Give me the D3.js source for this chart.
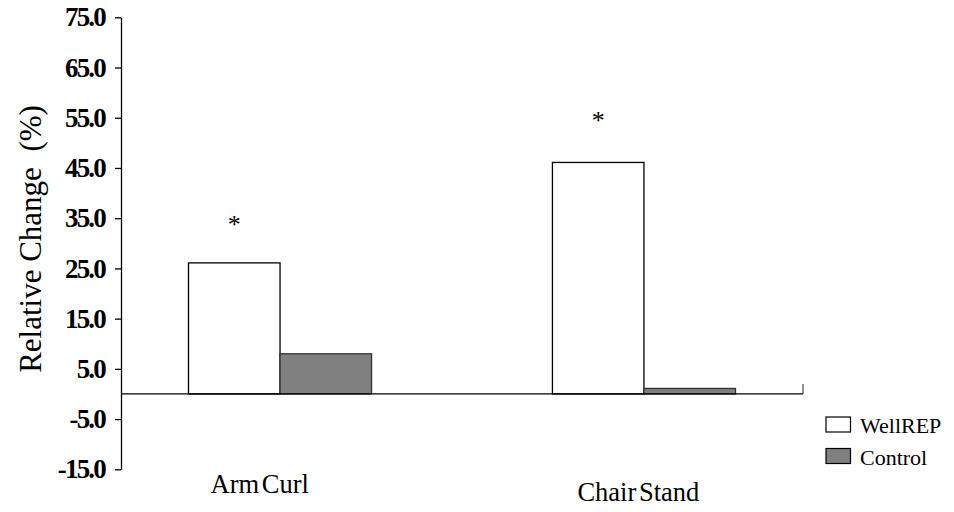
<!DOCTYPE html>
<html>
<head>
<meta charset="utf-8">
<script src="https://cdn.jsdelivr.net/npm/d3@7"></script>
<style>
  body { margin: 0; background: #fff; }
  svg { display: block; }
  text { font-family: "Liberation Serif", "Times New Roman", serif; }
</style>
</head>
<body>
<svg id="chart" width="954" height="512"></svg>
<script>
// chart values
var categories = ["Arm Curl", "Chair Stand"];
var seriesNames = ["WellREP", "Control"];
var wellrepValues = [26.1, 46.1];
var controlValues = [8.0, 1.1];
var significant = [true, true]; // asterisk above WellREP bars
var yTicks = [75, 65, 55, 45, 35, 25, 15, 5, -5, -15];
var yLabel = "Relative Change  (%)";

var serif = "'Liberation Serif', 'Times New Roman', serif";
var fills = { "WellREP": "#ffffff", "Control": "#808080" };
var strokes = { "WellREP": "#000000", "Control": "#333333" };

var svg = d3.select("#chart");

var plotLeft = 121, plotRight = 803, plotTop = 17.3, plotBottom = 469.3;

var y = d3.scaleLinear().domain([-15, 75]).range([plotBottom, plotTop]);

var x0 = d3.scaleBand()
    .domain(categories)
    .range([plotLeft, plotRight])
    .paddingInner(0.497)
    .paddingOuter(0.1855);

var x1 = d3.scaleBand()
    .domain(seriesNames)
    .range([0, x0.bandwidth()]);

var rows = categories.map(function (c, i) {
    return { cat: c, values: [
        { name: "WellREP", v: wellrepValues[i] },
        { name: "Control", v: controlValues[i] }
    ], sig: significant[i] };
});

// bars
var groups = svg.append("g").selectAll("g")
    .data(rows)
    .join("g")
    .attr("transform", d => `translate(${x0(d.cat)},0)`);

groups.selectAll("rect")
    .data(d => d.values)
    .join("rect")
    .attr("x", d => x1(d.name))
    .attr("width", x1.bandwidth())
    .attr("y", d => y(Math.max(0, d.v)))
    .attr("height", d => Math.abs(y(d.v) - y(0)))
    .attr("fill", d => fills[d.name])
    .attr("stroke", d => strokes[d.name])
    .attr("stroke-width", 1.3);

// asterisks
groups.filter(d => d.sig)
    .append("text")
    .attr("x", x1("WellREP") + x1.bandwidth() / 2)
    .attr("y", (d, i) => y(d.values[0].v) - 30 - i * 3)
    .attr("text-anchor", "middle")
    .attr("font-family", serif)
    .attr("font-size", 26)
    .text("*");

// zero line with right-end tick
svg.append("line")
    .attr("x1", plotLeft).attr("x2", plotRight)
    .attr("y1", y(0)).attr("y2", y(0))
    .attr("stroke", "#000").attr("stroke-width", 1.3);
svg.append("line")
    .attr("x1", plotRight).attr("x2", plotRight)
    .attr("y1", y(0)).attr("y2", y(0) - 10)
    .attr("stroke", "#555").attr("stroke-width", 1.3);

// y axis
var yAxis = svg.append("g")
    .attr("transform", `translate(${plotLeft},0)`)
    .call(d3.axisLeft(y).tickValues(yTicks).tickSize(6).tickSizeOuter(0)
        .tickFormat(d => d.toFixed(1)))
    .attr("font-family", serif);
yAxis.select(".domain").attr("stroke", "#000").attr("stroke-width", 1.3);
yAxis.selectAll(".tick line").attr("stroke", "#000").attr("stroke-width", 1.3);
yAxis.selectAll(".tick text")
    .attr("x", -16)
    .attr("font-family", serif)
    .attr("font-weight", "bold")
    .attr("font-size", 27)
    .attr("letter-spacing", -1.8)
    .attr("fill", "#000");

// y label
svg.append("text")
    .attr("transform", `translate(41,${(100 + 378) / 2}) rotate(-90)`)
    .attr("text-anchor", "middle")
    .attr("font-family", serif)
    .attr("font-size", 31)
    .attr("xml:space", "preserve")
    .style("white-space", "pre")
    .text(yLabel);

// category labels (Chair Stand sits a bit lower)
var labelY = [493, 501];
svg.append("g").selectAll("text")
    .data(categories)
    .join("text")
    .attr("x", (d, i) => x0(d) + 22 + i * 3)
    .attr("y", (d, i) => labelY[i])
    .attr("font-family", serif)
    .attr("font-size", 26.5)
    .attr("word-spacing", -4)
    .text(d => d);

// legend
var legend = svg.append("g").selectAll("g")
    .data(seriesNames)
    .join("g")
    .attr("transform", (d, i) => `translate(826,${417 + i * 31.5})`);
legend.append("rect")
    .attr("width", 24.5).attr("height", 15)
    .attr("fill", d => fills[d])
    .attr("stroke", "#000").attr("stroke-width", 1.2);
legend.append("text")
    .attr("x", 34).attr("y", 16)
    .attr("font-family", serif)
    .attr("font-size", 22)
    .text(d => d);
</script>
</body>
</html>
